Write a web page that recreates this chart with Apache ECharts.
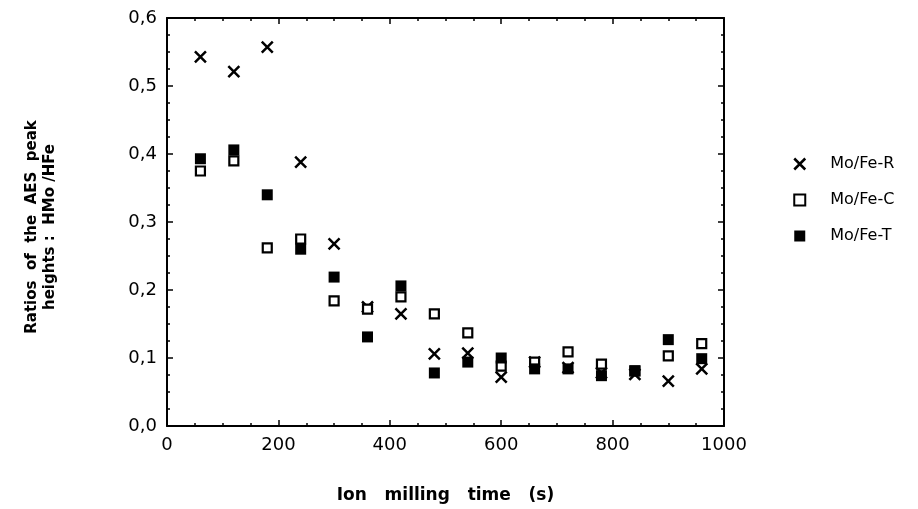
<!DOCTYPE html>
<html><head><meta charset="utf-8">
<script src="https://cdn.jsdelivr.net/npm/echarts@6/dist/echarts.min.js"></script>
<style>html,body{margin:0;padding:0;background:#fff}#c{width:918px;height:509px}</style>
</head><body><div id="c"></div>
<script>
const times = [60,120,180,240,300,360,420,480,540,600,660,720,780,840,900,960];
const moFeR = [0.543,0.521,0.557,0.388,0.268,0.175,0.165,0.106,0.107,0.072,0.094,0.086,0.078,0.076,0.066,0.084];
const moFeC = [0.375,0.390,0.262,0.275,0.184,0.172,0.190,0.165,0.137,0.088,0.094,0.109,0.091,0.081,0.103,0.121];
const moFeT = [0.393,0.406,0.340,0.260,0.219,0.131,0.206,0.078,0.094,0.100,0.084,0.084,0.074,0.081,0.127,0.099];
const seriesNames = ['Mo/Fe-R','Mo/Fe-C','Mo/Fe-T'];
const xTitle = 'Ion   milling   time   (s)';
const yTitle = 'Ratios  of  the  AES  peak\nheights :  HMo /HFe';

const pts = arr => times.map((t,i)=>[t,arr[i]]);
const crossPath = 'path://M0,0L10,10M10,0L0,10';
const font = 'DejaVu Sans';
const chart = echarts.init(document.getElementById('c'));
const axisCommon = {
  axisLine:{onZero:false,lineStyle:{color:'#000',width:2}},
  axisTick:{inside:true,length:6,lineStyle:{color:'#000',width:1.5}},
  minorTick:{show:true,splitNumber:4,length:3,lineStyle:{color:'#000',width:1.5}},
  splitLine:{show:false}
};
chart.setOption({
  animation:false,
  backgroundColor:'#fff',
  grid:{left:167,right:194,top:18,bottom:82},
  legend:{
    orient:'vertical',left:788,top:150,itemGap:18,itemWidth:11,itemHeight:11,
    textStyle:{fontFamily:font,fontSize:16,lineHeight:18,color:'#000',padding:[0,0,0,20]},
    data:[
      {name:seriesNames[0],icon:crossPath,itemStyle:{color:'rgba(0,0,0,0)',borderColor:'#000',borderWidth:2.5,opacity:1}},
      {name:seriesNames[1],icon:'rect',itemStyle:{color:'#fff',borderColor:'#000',borderWidth:2,opacity:1}},
      {name:seriesNames[2],icon:'rect',itemStyle:{color:'#000',borderColor:'#000',borderWidth:0,opacity:1}}
    ]
  },
  xAxis:[
    Object.assign({type:'value',min:0,max:1000,interval:200,position:'bottom',
      name:xTitle,nameLocation:'middle',nameGap:61,
      nameTextStyle:{fontFamily:font,fontWeight:'bold',fontSize:17,color:'#000'},
      axisLabel:{fontFamily:font,fontSize:18,color:'#000',margin:10,formatter:v=>String(v)}},axisCommon),
    Object.assign({type:'value',min:0,max:1000,interval:200,position:'top',axisLabel:{show:false}},axisCommon)
  ],
  yAxis:[
    Object.assign({type:'value',min:0,max:0.6,interval:0.1,position:'left',
      name:yTitle,nameLocation:'middle',nameGap:108,nameRotate:90,
      nameTextStyle:{fontFamily:font,fontWeight:'bold',fontSize:15,color:'#000',lineHeight:18,align:'center',padding:[0,10,0,0]},
      axisLabel:{fontFamily:font,fontSize:18,color:'#000',margin:10,formatter:v=>v.toFixed(1).replace('.',',')}},axisCommon),
    Object.assign({type:'value',min:0,max:0.6,interval:0.1,position:'right',axisLabel:{show:false}},axisCommon)
  ],
  series:[
    {name:seriesNames[0],type:'scatter',data:pts(moFeR),symbol:crossPath,symbolSize:11,
      itemStyle:{color:'rgba(0,0,0,0)',borderColor:'#000',borderWidth:2.5,opacity:1}},
    {name:seriesNames[1],type:'scatter',data:pts(moFeC),symbol:'rect',symbolSize:9,
      itemStyle:{color:'#fff',borderColor:'#000',borderWidth:2.2,opacity:1}},
    {name:seriesNames[2],type:'scatter',data:pts(moFeT),symbol:'rect',symbolSize:11,
      itemStyle:{color:'#000',opacity:1}}
  ]
});
</script></body></html>
